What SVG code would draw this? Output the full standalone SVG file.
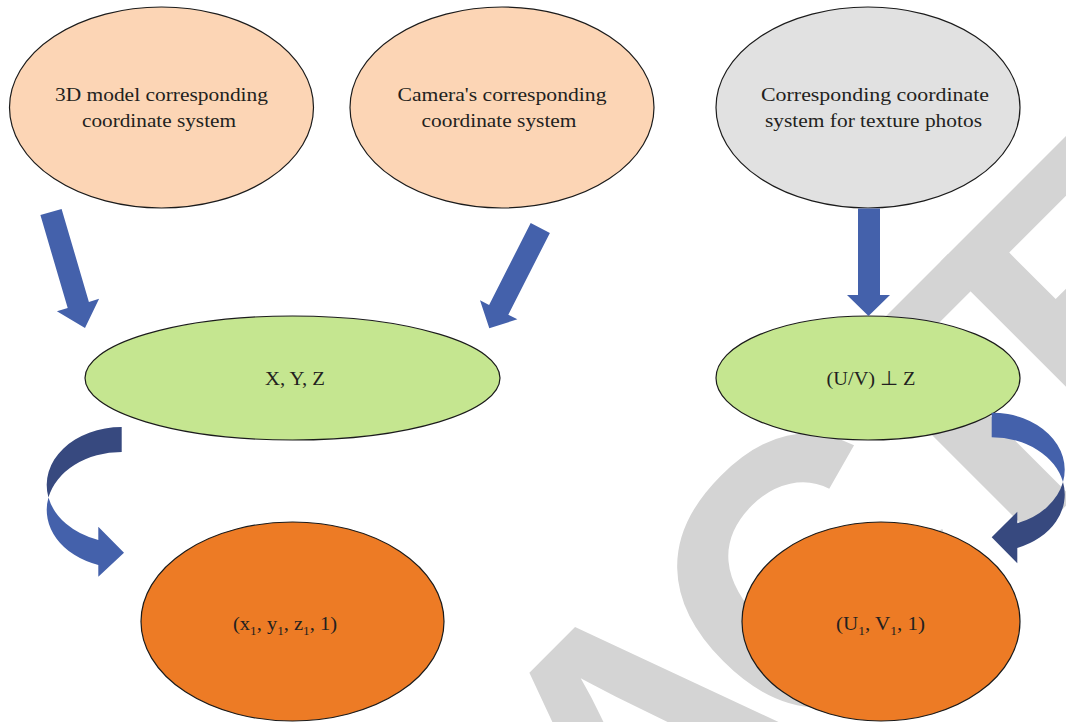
<svg xmlns="http://www.w3.org/2000/svg" width="1066" height="722" viewBox="0 0 1066 722">
  <style>
    .node ellipse { stroke: #1b1b1b; stroke-width: 1.2; }
    .peach { fill: #FCD5B5; }
    .grey { fill: #E1E1E1; }
    .green { fill: #C5E690; }
    .orange { fill: #ED7B25; }
    .lbl { font-family: "Liberation Serif", "Times New Roman", serif; font-size: 19.5px; fill: #231f20; text-anchor: middle; }
    .sub { font-size: 12.5px; }
    .arrow { fill: #4461AB; }
    .arrow-back { fill: #37497F; }
    .mark { font-family: "Liberation Sans", Arial, sans-serif; font-weight: bold; font-size: 380px; letter-spacing: -40px; fill: #D4D4D4; }
  </style>

  <rect width="1066" height="722" fill="#FFFFFF"/>

  <!-- background stamp -->
  <g id="stamp">
    <text class="mark" transform="translate(806 572) rotate(-45)" x="-1246" y="137">RETRACTED</text>
  </g>

  <!-- source frames -->
  <g id="n3d" class="node">
    <ellipse class="peach" cx="161.5" cy="107.5" rx="152" ry="100.5"/>
    <text class="lbl" x="161.5" y="101" textLength="213" lengthAdjust="spacingAndGlyphs">3D model corresponding</text>
    <text class="lbl" x="159" y="127" textLength="154" lengthAdjust="spacingAndGlyphs">coordinate system</text>
  </g>
  <g id="ncam" class="node">
    <ellipse class="peach" cx="502" cy="107.5" rx="152" ry="100.5"/>
    <text class="lbl" x="502" y="101" textLength="209" lengthAdjust="spacingAndGlyphs">Camera's corresponding</text>
    <text class="lbl" x="499" y="127" textLength="155" lengthAdjust="spacingAndGlyphs">coordinate system</text>
  </g>
  <g id="ntex" class="node">
    <ellipse class="grey" cx="868" cy="107.5" rx="152" ry="100.5"/>
    <text class="lbl" x="875" y="101" textLength="228" lengthAdjust="spacingAndGlyphs">Corresponding coordinate</text>
    <text class="lbl" x="873.5" y="127" textLength="217" lengthAdjust="spacingAndGlyphs">system for texture photos</text>
  </g>

  <!-- intermediate coordinates -->
  <g id="nxyz" class="node">
    <ellipse class="green" cx="292.5" cy="378" rx="207.5" ry="62"/>
    <text class="lbl" x="295" y="385" textLength="60" lengthAdjust="spacingAndGlyphs">X, Y, Z</text>
  </g>
  <g id="nuvz" class="node">
    <ellipse class="green" cx="868" cy="378" rx="152" ry="62"/>
    <text class="lbl" x="871" y="385" textLength="89" lengthAdjust="spacingAndGlyphs">(U/V) ⊥ Z</text>
  </g>

  <!-- homogeneous coordinates -->
  <g id="nxyz1" class="node">
    <ellipse class="orange" cx="292.5" cy="621.5" rx="151.5" ry="99.5"/>
    <text class="lbl" x="285" y="630" textLength="104" lengthAdjust="spacingAndGlyphs">(x<tspan class="sub" dy="5">1</tspan><tspan dy="-5">, y</tspan><tspan class="sub" dy="5">1</tspan><tspan dy="-5">, z</tspan><tspan class="sub" dy="5">1</tspan><tspan dy="-5">, 1)</tspan></text>
  </g>
  <g id="nuv1" class="node">
    <ellipse class="orange" cx="881" cy="621.5" rx="139" ry="99.5"/>
    <text class="lbl" x="880.5" y="630" textLength="89" lengthAdjust="spacingAndGlyphs">(U<tspan class="sub" dy="5">1</tspan><tspan dy="-5">, V</tspan><tspan class="sub" dy="5">1</tspan><tspan dy="-5">, 1)</tspan></text>
  </g>

  <!-- block arrows -->
  <g id="connectors">
    <polygon class="arrow" points="61.6,208.9 88.9,301.9 99.1,298.8 85,328 56.9,311.2 67.7,308.1 40.4,215.1"/>
    <polygon class="arrow" points="549.9,232.9 508.3,314.7 517.4,319.3 489.3,328.3 480,300.3 489.1,304.9 530.7,223.1"/>
    <polygon class="arrow" points="858,208.5 880,208.5 880,295 890,295 868.5,316 847,295 858,295"/>

    <!-- curved arrow, left side -->
    <path class="arrow-back" d="M121.7,427 A75,58 0 0 0 48.46,497.5 A75,58 0 0 1 121.7,452 Z"/>
    <path class="arrow" d="M48.46,497.5 A75,58 0 0 0 98.3,565 L98.3,576.7 L124,552.7 L98.3,526.7 L98.3,540 A75,58 0 0 1 48.46,497.5 Z"/>

    <!-- curved arrow, right side -->
    <path class="arrow" d="M991.7,412.7 A73,57.1 0 0 1 1063,482.1 A73,57.1 0 0 0 991.7,437.3 Z"/>
    <path class="arrow-back" d="M1063,482.1 A73,57.1 0 0 1 1017.3,548 L1017.3,563.3 L991.7,537.3 L1017.3,511.7 L1017.3,523.3 A73,57.1 0 0 0 1063,482.1 Z"/>
  </g>
</svg>
